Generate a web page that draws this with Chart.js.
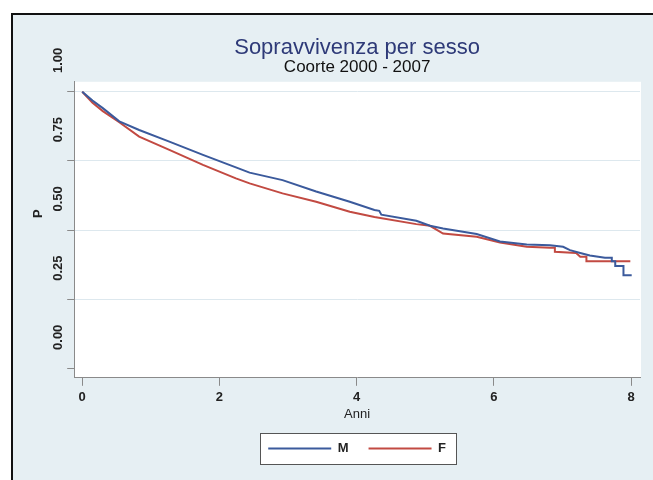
<!DOCTYPE html>
<html>
<head>
<meta charset="utf-8">
<title>Sopravvivenza per sesso</title>
<script src="https://cdn.jsdelivr.net/npm/chart.js@4.4.1/dist/chart.umd.min.js"></script>
<style>
  html, body { margin: 0; padding: 0; background: #fff; overflow: hidden; }
  #frame { position: absolute; left: 11px; top: 13px; width: 660px; height: 480px;
           border-top: 2px solid #111; border-left: 2px solid #111; background: #e6eff3; }
  #chart1 { display: block; }
</style>
</head>
<body>
<div id="frame"><canvas id="chart1" width="640" height="465"></canvas></div>
<script>
var titleText = 'Sopravvivenza per sesso';
var subtitleText = 'Coorte 2000 - 2007';
var seriesNames = ['M', 'F'];
var xTicks = [0, 2, 4, 6, 8];
var yTicks = [0, 0.25, 0.5, 0.75, 1];

// M (anni, sopravvivenza)
var timeM = [0, 0.15, 0.30, 0.54, 0.83, 1.27, 1.76, 2.24, 2.44, 2.92, 3.41, 3.90, 4.26, 4.33, 4.36, 4.87, 5.07, 5.26, 5.75, 6.09, 6.48, 6.82, 7.01, 7.11, 7.26, 7.40, 7.62, 7.72, 7.72, 7.77, 7.77, 7.89, 7.89, 8.01];
var survM = [1.000, 0.968, 0.941, 0.893, 0.862, 0.820, 0.772, 0.727, 0.708, 0.681, 0.640, 0.603, 0.573, 0.570, 0.556, 0.534, 0.516, 0.506, 0.486, 0.459, 0.448, 0.446, 0.440, 0.428, 0.418, 0.409, 0.401, 0.401, 0.388, 0.388, 0.371, 0.371, 0.337, 0.337];

// F
var timeF = [0, 0.15, 0.30, 0.54, 0.83, 1.27, 1.76, 2.24, 2.44, 2.92, 3.41, 3.90, 4.26, 4.87, 5.07, 5.26, 5.75, 6.09, 6.48, 6.82, 6.89, 6.89, 7.20, 7.26, 7.35, 7.35, 7.99];
var survF = [1.000, 0.960, 0.930, 0.890, 0.838, 0.790, 0.736, 0.687, 0.669, 0.633, 0.603, 0.567, 0.548, 0.522, 0.516, 0.488, 0.476, 0.456, 0.440, 0.437, 0.437, 0.422, 0.418, 0.404, 0.404, 0.388, 0.388];

var colorM = '#3b5a9c';
var colorF = '#c24a42';

function toPoints(xs, ys) {
  var pts = [];
  for (var i = 0; i < xs.length; i++) {
    pts.push({x: xs[i], y: ys[i]});
  }
  return pts;
}

// white plot region + framed legend
var plotBg = {
  id: 'plotBg',
  beforeDraw: function(chart) {
    var ctx = chart.ctx;
    var a = chart.chartArea;
    ctx.save();
    ctx.fillStyle = '#ffffff';
    ctx.fillRect(a.left, a.top, a.right - a.left + 1, a.bottom - a.top);
    var hb = chart.legend.legendHitBoxes;
    if (hb && hb.length) {
      var l = hb[0].left - 8;
      var last = hb[hb.length - 1];
      var r = last.left + last.width + 10;
      var cy = hb[0].top + hb[0].height / 2;
      var t = Math.round(cy - 15.5) + 0.5;
      ctx.fillRect(l, t, r - l, 31);
      ctx.strokeStyle = '#555555';
      ctx.lineWidth = 1;
      ctx.strokeRect(Math.round(l) + 0.5, t, Math.round(r - l), 31);
    }
    ctx.restore();
  }
};

Chart.defaults.font.family = "'Liberation Sans', Arial, sans-serif";

const ctx = document.getElementById('chart1');
new Chart(ctx, {
  type: 'line',
  data: {
    datasets: [
      {
        label: seriesNames[0],
        data: toPoints(timeM, survM),
        borderColor: colorM,
        backgroundColor: colorM,
        borderWidth: 2,
        pointRadius: 0,
        tension: 0
      },
      {
        label: seriesNames[1],
        data: toPoints(timeF, survF),
        borderColor: colorF,
        backgroundColor: colorF,
        borderWidth: 2,
        pointRadius: 0,
        tension: 0
      }
    ]
  },
  options: {
    responsive: false,
    animation: false,
    devicePixelRatio: 1,
    layout: { padding: { left: 14, right: 13, top: 8, bottom: 15 } },
    scales: {
      x: {
        type: 'linear',
        min: -0.117,
        max: 8.131,
        afterBuildTicks: function(s) { s.ticks = xTicks.map(function(v) { return {value: v}; }); },
        ticks: { padding: 4, color: '#222', font: { size: 13, weight: 'bold' }, maxRotation: 0,
                 callback: function(v) { return String(v); } },
        grid: { drawOnChartArea: false, tickColor: '#8a8a8a', tickLength: 8 },
        border: { color: '#8a8a8a', width: 1 },
        title: { display: true, text: 'Anni', color: '#222', font: { size: 13 }, padding: { top: -3, bottom: 0 } }
      },
      y: {
        type: 'linear',
        min: -0.033,
        max: 1.036,
        afterBuildTicks: function(s) { s.ticks = yTicks.map(function(v) { return {value: v}; }); },
        ticks: { minRotation: 90, maxRotation: 90, padding: 9, labelOffset: -44, color: '#222',
                 font: { size: 13, weight: 'bold' }, callback: function(v) { return Number(v).toFixed(2); } },
        grid: {
          color: function(c) { return (c.tick && c.tick.value === 0) ? 'rgba(0,0,0,0)' : '#dde8ee'; },
          tickColor: '#8a8a8a',
          tickLength: 7
        },
        border: { color: '#8a8a8a', width: 1 },
        // leading spaces lift the rotated title a little, as in the original
        title: { display: true, text: '         P', color: '#222', font: { size: 13, weight: 'bold' },
                 padding: { top: 4, bottom: -13 } }
      }
    },
    plugins: {
      title: { display: true, text: titleText, fullSize: false, color: '#2e3a78',
               font: { size: 22, weight: 'normal' }, padding: { top: 12, bottom: 0 } },
      subtitle: { display: true, text: subtitleText, fullSize: false, color: '#111',
                  font: { size: 17, weight: 'normal' }, padding: { top: -4, bottom: 4 } },
      legend: {
        position: 'bottom',
        fullSize: false,
        labels: {
          boxWidth: 63,
          boxHeight: 2,
          padding: 20,
          color: '#222',
          font: { size: 13, weight: 'bold' },
          generateLabels: function(chart) {
            var items = Chart.defaults.plugins.legend.labels.generateLabels(chart);
            items.forEach(function(it) { it.lineWidth = 0; });
            return items;
          }
        }
      },
      tooltip: { enabled: false }
    }
  },
  plugins: [plotBg]
});
</script>
</body>
</html>
